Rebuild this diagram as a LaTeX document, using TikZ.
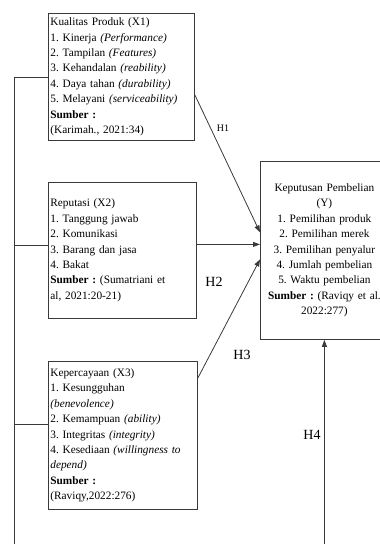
\documentclass[tikz,border=0pt]{standalone}
\usepackage{fontspec}
\setmainfont{Liberation Serif}
\usetikzlibrary{arrows.meta,calc}
\definecolor{linegray}{HTML}{3A3A3A}
\frenchspacing
\tikzset{
  blk/.style={draw=linegray, line width=.8pt, align=left, anchor=north west, inner xsep=2pt, inner ysep=1pt, font=\fontsize{11.3}{15.4}\selectfont},
  blky/.style={blk, align=center},
  ar/.style={-{Triangle[length=7pt,width=5pt]}, line width=.8pt, draw=linegray},
  ln/.style={line width=.8pt, draw=linegray},
  lbl/.style={font=\fontsize{14}{14}\selectfont},
}
\begin{document}
\begin{tikzpicture}[x=1pt,y=-1pt]
    \useasboundingbox (0,0) rectangle (380,544);
    \node[blk, text width=142pt, minimum height=127pt] (kp) at (48,13) {Kualitas Produk (X1)\\1. Kinerja \textit{(Performance)}\\2. Tampilan \textit{(Features)}\\3. Kehandalan \textit{(reability)}\\4. Daya tahan \textit{(durability)}\\5. Melayani \textit{(serviceability)}\\\textbf{Sumber :}\\(Karimah., 2021:34)};
    \node[blk, text width=144pt, minimum height=136pt] (rep) at (48,182) {Reputasi (X2)\\1. Tanggung jawab\\2. Komunikasi\\3. Barang dan jasa\\4. Bakat\\\textbf{Sumber :} (Sumatriani et\\al, 2021:20-21)};
    \node[blk, text width=145pt, minimum height=148pt] (kep) at (48,361) {Kepercayaan (X3)\\1. Kesungguhan\\\textit{(benevolence)}\\2. Kemampuan \textit{(ability)}\\3. Integritas \textit{(integrity)}\\4. Kesediaan \textit{(willingness to}\\\textit{depend)}\\\textbf{Sumber :}\\(Raviqy,2022:276)};
    \node[blky, text width=124pt, minimum height=178pt] (kpb) at (260,161) {Keputusan Pembelian\\(Y)\\1. Pemilihan produk\\2. Pemilihan merek\\3. Pemilihan penyalur\\4. Jumlah pembelian\\5. Waktu pembelian\\\textbf{Sumber :} (Raviqy et al.\\2022:277)};
    % garis simultan
    \coordinate (busend) at (14,544);
    \coordinate (h4foot) at (kpb.south |- busend);
    \draw[ln] (kp.west) -| (busend);
    \draw[ln] ([yshift=5pt]rep.west) -- ([yshift=5pt]rep.west -| busend);
    \draw[ln] ([yshift=11pt]kep.west) -- ([yshift=11pt]kep.west -| busend);
    % hipotesis
    \draw[ar] ($(kp.north east)!0.64!(kp.south east)$) -- ([yshift=18pt]kpb.west);
    \draw[ar] ([yshift=6pt]rep.east) -- ([yshift=6pt]kpb.west);
    \draw[ar] ($(kep.north east)!0.115!(kep.south east)$) -- ([yshift=-9pt]kpb.west);
    \draw[ar] (h4foot) -- (kpb.south);
    \node[font=\fontsize{10}{10}\selectfont] (h1) at (223,128) {H1};
    \node[lbl] (h2) at (214,282) {H2};
    \node[lbl] (h3) at (242,355) {H3};
    \node[lbl] (h4) at (312,435) {H4};
\end{tikzpicture}
\end{document}
